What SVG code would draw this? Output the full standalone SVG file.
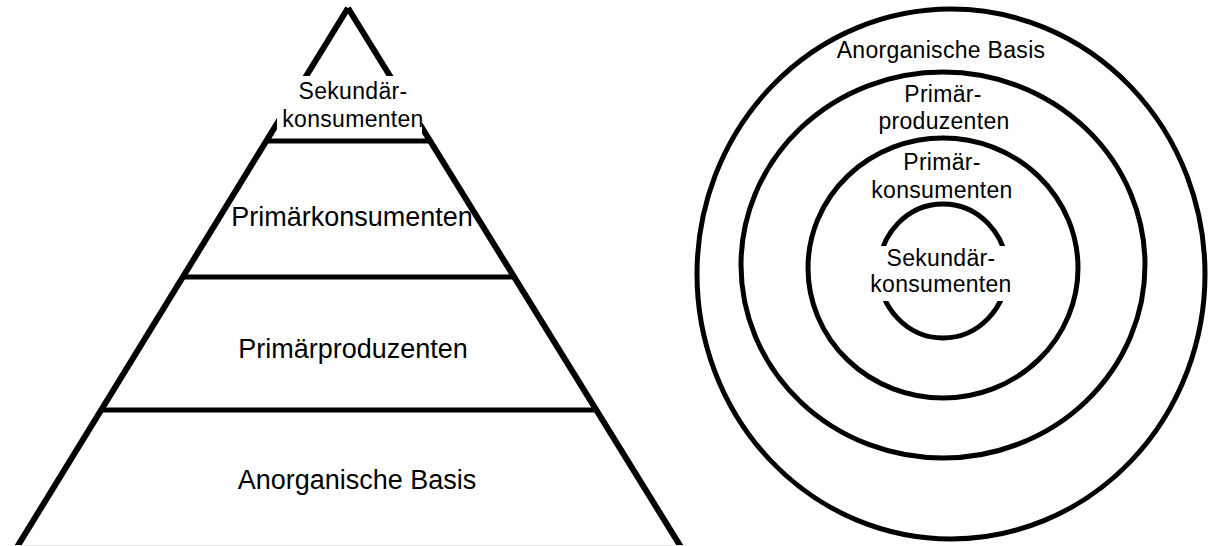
<svg xmlns="http://www.w3.org/2000/svg" width="1208" height="546" viewBox="0 0 1208 546">
<style>
.side{stroke:#000;stroke-width:6;fill:none;stroke-linecap:butt}
.hl{stroke:#000;stroke-width:5;fill:none}
.ring{stroke:#000;stroke-width:5;fill:none}
.bg{fill:#fff}
text{font-family:"Liberation Sans",Arial,Helvetica,sans-serif;fill:#000;text-anchor:middle}
.big{font-size:27px}
.small{font-size:23px;letter-spacing:0.3px}
</style>
<rect width="1208" height="546" fill="#fff"/>
<g id="connectors">
<line class="side" x1="348" y1="8" x2="14" y2="552"/>
<line class="side" x1="348" y1="8" x2="684" y2="552"/>
<line x1="14" y1="545.5" x2="684" y2="545.5" stroke="#e4e4e4" stroke-width="1"/>
</g>
<g id="level-sekundaer">
<rect class="bg" x="277" y="76" width="145" height="58"/>
<line class="hl" x1="268" y1="141" x2="431" y2="141"/>
<text class="small" x="353" y="99">Sekundär-</text>
<text class="small" x="353" y="127">konsumenten</text>
</g>
<g id="level-primaerkonsumenten">
<line class="hl" x1="183" y1="277" x2="515" y2="277"/>
<text class="big" x="352" y="226">Primärkonsumenten</text>
</g>
<g id="level-primaerproduzenten">
<line class="hl" x1="101" y1="410" x2="598" y2="410"/>
<text class="big" x="353" y="358">Primärproduzenten</text>
</g>
<g id="level-anorganisch">
<text class="big" x="357" y="489">Anorganische Basis</text>
</g>
<g id="ring-anorganisch">
<ellipse class="ring" cx="951" cy="274" rx="254" ry="265"/>
<text class="small" x="941" y="58">Anorganische Basis</text>
</g>
<g id="ring-produzenten">
<ellipse class="ring" cx="943" cy="265" rx="202" ry="193"/>
<text class="small" x="943" y="102">Primär-</text>
<text class="small" x="944" y="129">produzenten</text>
</g>
<g id="ring-konsumenten">
<ellipse class="ring" cx="943" cy="268" rx="135" ry="130"/>
<text class="small" x="942" y="170">Primär-</text>
<text class="small" x="942" y="198">konsumenten</text>
</g>
<g id="ring-sekundaer">
<ellipse class="ring" cx="943" cy="271" rx="64" ry="67"/>
<rect class="bg" x="866" y="246" width="144" height="55"/>
<text class="small" x="941" y="266">Sekundär-</text>
<text class="small" x="941" y="292">konsumenten</text>
</g>
</svg>
